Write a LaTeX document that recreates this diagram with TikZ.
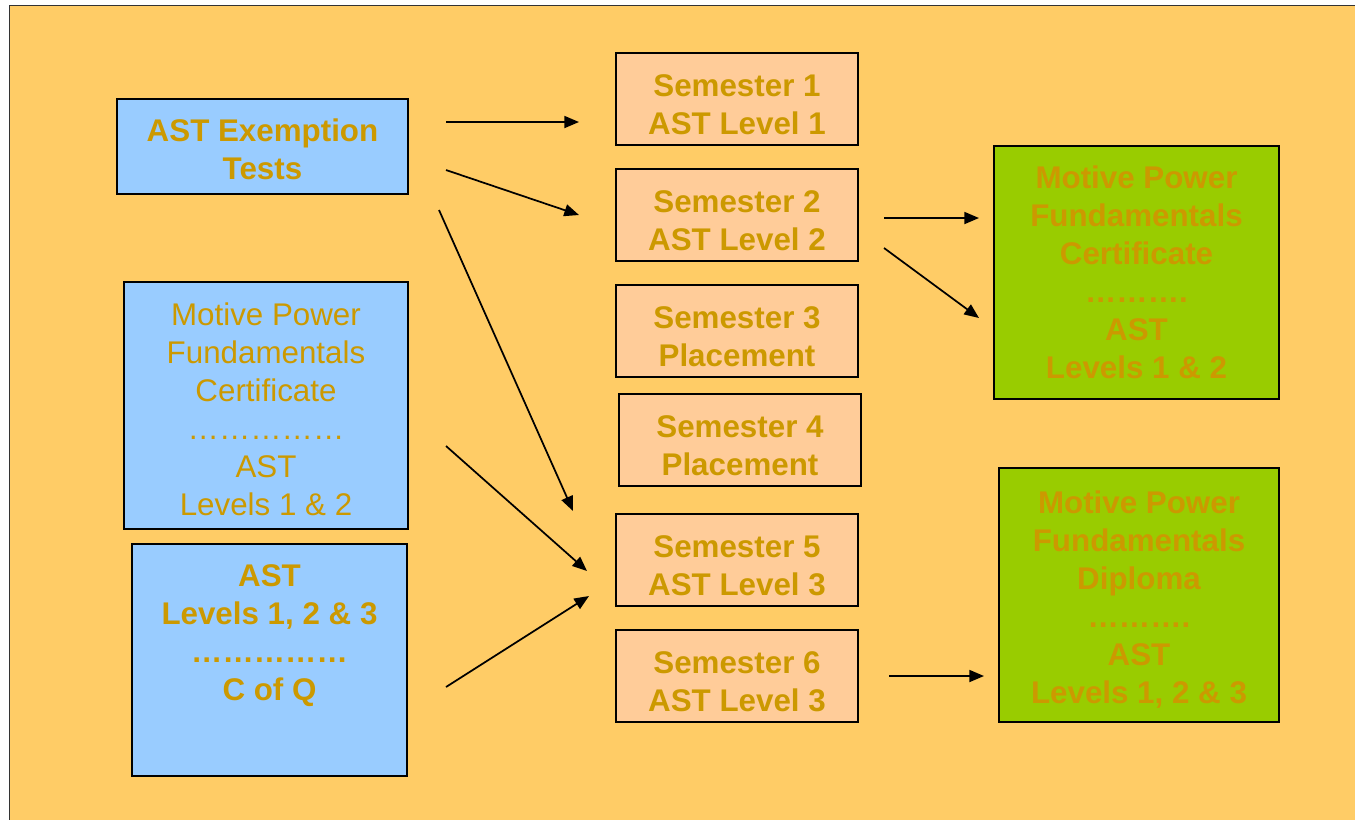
\documentclass[tikz,border=0pt]{standalone}
\usepackage{fontspec}
\setmainfont{Liberation Sans}
\usetikzlibrary{arrows.meta}

\definecolor{slide}{HTML}{FFCC66}
\definecolor{sky}{HTML}{99CCFF}
\definecolor{peach}{HTML}{FFCC99}
\definecolor{lime}{HTML}{99CC00}
\definecolor{gold}{HTML}{CC9900}

\tikzset{every picture/.style={line width=0.75pt}}
\tikzset{
  box/.style={draw=black, line width=1.5pt, inner sep=0pt, align=center, text=gold,
    font=\bfseries\fontsize{23.5}{28.5}\selectfont},
  entry/.style={box, fill=sky},
  sem/.style={box, fill=peach, minimum width=181.5pt, minimum height=69pt,
    text height=53pt, text depth=0pt},
  award/.style={box, fill=lime},
  txt/.style={inner sep=0pt, align=center, text=gold, font=\bfseries\fontsize{23.5}{28.5}\selectfont},
  arr/.style={draw=black, line width=1.3pt, -{Triangle[length=11pt,width=9pt]}}
}

\begin{document}
\begin{tikzpicture}[x=0.75pt,y=0.75pt,yscale=-1,xscale=1]
\clip (0,0) rectangle (1355,819);

%Shape: Rectangle (slide)
\draw [draw={rgb, 255:red, 51; green, 51; blue, 51 }, fill=slide] (9,5) rectangle (1375,835);

% Entry boxes
\node [entry, minimum width=218.25pt, minimum height=71.25pt, text height=49.5pt, text depth=0pt] (ex) at (262.5,146.5) {AST Exemption\\Tests};
\node [entry, minimum width=213pt, minimum height=185.25pt, text height=165pt, text depth=0pt, font=\fontsize{23.5}{28.5}\selectfont] (mpc) at (266,405.5) {Motive Power\\Fundamentals\\Certificate\\……………\\AST\\Levels 1 \& 2};
\node [entry, minimum width=206.25pt, minimum height=174pt] (cq) at (269.5,660) {};
% Text Node
\node [txt] (cqt) at (269.5,636) {AST\\Levels 1, 2 \& 3\\……………\\C of Q};

% Semesters
\node [sem] (s1) at (737,99) {Semester 1\\AST Level 1};
\node [sem] (s2) at (737,215) {Semester 2\\AST Level 2};
\node [sem] (s3) at (737,331) {Semester 3\\Placement};
\node [sem] (s4) at (740,440) {Semester 4\\Placement};
\node [sem] (s5) at (737,560) {Semester 5\\AST Level 3};
\node [sem] (s6) at (737,676) {Semester 6\\AST Level 3};

% Awards
\node [award, minimum width=213.75pt, minimum height=189.75pt] (gc) at (1136.5,272.5) {Motive Power\\Fundamentals\\Certificate\\……….\\AST\\Levels 1 \& 2};
\node [award, minimum width=210pt, minimum height=190.5pt, text height=163pt, text depth=0pt] (gd) at (1139,595) {Motive Power\\Fundamentals\\Diploma\\……….\\AST\\Levels 1, 2 \& 3};

% Arrows
\draw [arr] ([shift={(37,-24.5)}]ex.east) -- ([shift={(-36,23)}]s1.west);
\draw [arr] ([shift={(37,23.5)}]ex.east) -- ([shift={(-36,0)}]s2.west);
\draw [arr] ([shift={(30,15)}]ex.south east) -- ([shift={(-42,-2)}]s5.north west);
\draw [arr] ([shift={(37,40.5)}]mpc.east) -- ([shift={(-28,11)}]s5.west);
\draw [arr] ([shift={(38,27)}]cq.east) -- ([shift={(-26,36)}]s5.west);
\draw [arr] ([shift={(25,3)}]s2.east) -- ([shift={(-14,-54.5)}]gc.west);
\draw [arr] ([shift={(25,33)}]s2.east) -- ([shift={(-14,45.5)}]gc.west);
\draw [arr] ([shift={(30,0)}]s6.east) -- ([shift={(-14,81)}]gd.west);

\end{tikzpicture}
\end{document}
